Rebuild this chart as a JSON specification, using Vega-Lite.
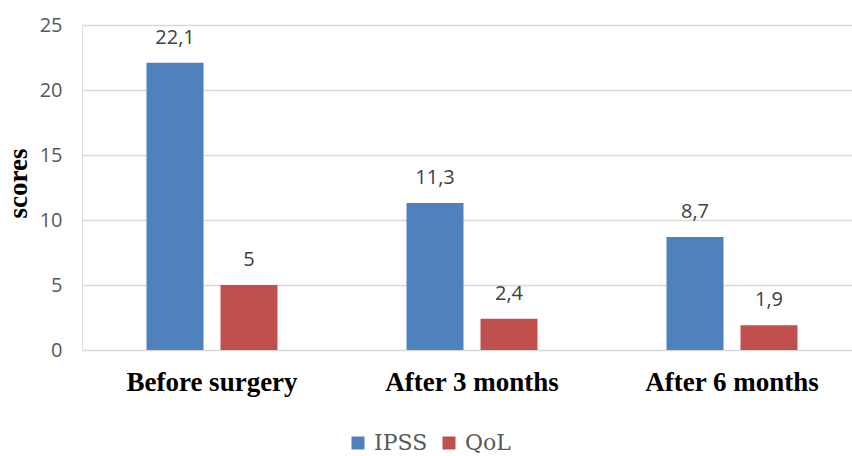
{
  "$schema": "https://vega.github.io/schema/vega-lite/v6.json",
  "autosize": "none",
  "width": 780,
  "height": 325,
  "padding": {"left": 82, "top": 25, "right": 0, "bottom": 106},
  "background": "white",
  "data": {
    "values": [
      {"period": "Before surgery", "measure": "IPSS", "score": 22.1, "label": "22,1"},
      {"period": "Before surgery", "measure": "QoL", "score": 5, "label": "5"},
      {"period": "After 3 months", "measure": "IPSS", "score": 11.3, "label": "11,3"},
      {"period": "After 3 months", "measure": "QoL", "score": 2.4, "label": "2,4"},
      {"period": "After 6 months", "measure": "IPSS", "score": 8.7, "label": "8,7"},
      {"period": "After 6 months", "measure": "QoL", "score": 1.9, "label": "1,9"}
    ]
  },
  "encoding": {
    "x": {
      "field": "period",
      "type": "nominal",
      "sort": ["Before surgery", "After 3 months", "After 6 months"],
      "scale": {"paddingInner": 0, "paddingOuter": 0},
      "axis": {
        "title": null,
        "labelAngle": 0,
        "labelFont": "Liberation Serif",
        "labelFontWeight": "bold",
        "labelFontSize": 27,
        "labelColor": "#000000",
        "labelPadding": 19,
        "ticks": false,
        "domain": false,
        "grid": false
      }
    },
    "xOffset": {
      "field": "measure",
      "type": "nominal",
      "scale": {"paddingInner": 0.23, "paddingOuter": 0.872}
    },
    "y": {
      "field": "score",
      "type": "quantitative",
      "scale": {"domain": [0, 25]},
      "axis": {
        "title": "scores",
        "titleFont": "Liberation Serif",
        "titleFontWeight": "bold",
        "titleFontSize": 27,
        "titleColor": "#000000",
        "titleX": -64,
        "titleY": 158,
        "titleAngle": -90,
        "titleAlign": "center",
        "titleBaseline": "middle",
        "values": [0, 5, 10, 15, 20, 25],
        "labelFont": "Open Sans",
        "labelFontSize": 20,
        "labelColor": "#595959",
        "labelPadding": 20,
        "ticks": false,
        "domain": false,
        "grid": true,
        "gridColor": "#d9d9d9",
        "gridWidth": 1.3
      }
    }
  },
  "layer": [
    {
      "mark": {"type": "bar"},
      "encoding": {
        "color": {
          "field": "measure",
          "type": "nominal",
          "scale": {"domain": ["IPSS", "QoL"], "range": ["#4f81bd", "#c0504d"]},
          "legend": {
            "title": null,
            "orient": "none",
            "direction": "horizontal",
            "legendX": 265,
            "legendY": 407,
            "symbolType": "square",
            "symbolSize": 169,
            "symbolStrokeWidth": 0,
            "labelFont": "DejaVu Serif",
            "labelFontSize": 22,
            "labelColor": "#595959",
            "labelOffset": 5,
            "columnSpacing": 18
          }
        }
      }
    },
    {
      "mark": {
        "type": "text",
        "baseline": "alphabetic",
        "dy": -19,
        "font": "Open Sans",
        "fontSize": 20,
        "color": "#404040"
      },
      "encoding": {
        "text": {"field": "label", "type": "nominal"}
      }
    }
  ]
}
